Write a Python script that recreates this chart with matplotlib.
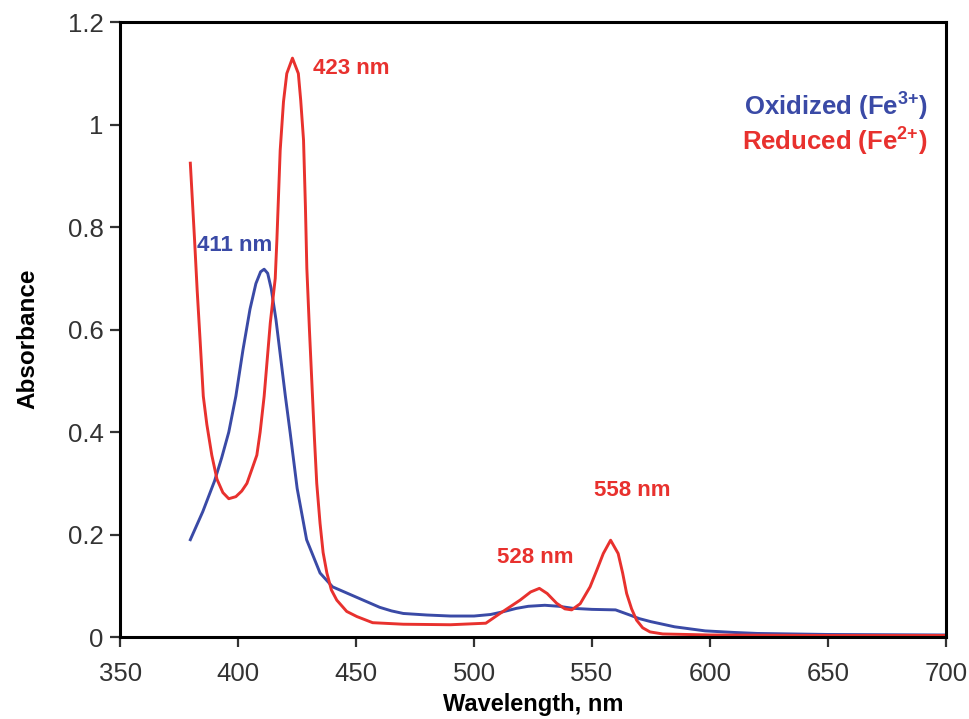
import matplotlib
matplotlib.use('Agg')
import matplotlib.pyplot as plt

plt.rcParams['font.family'] = ['Liberation Sans', 'DejaVu Sans']
plt.rcParams['mathtext.fontset'] = 'custom'
plt.rcParams['mathtext.rm'] = 'Liberation Sans:bold'
plt.rcParams['mathtext.default'] = 'rm'

# reduced (Fe2+) spectrum
red_wl = [379.7, 380.6, 381.5, 382.6, 383.9, 385.2, 386.7, 388.8, 391.0, 393.5,
          396.0, 399.0, 401.5, 403.7, 406.0, 407.9, 409.3, 411.0, 413.6, 415.7,
          416.4, 417.8, 419.2, 420.6, 423.0, 425.5, 426.5, 427.7, 428.5, 429.1,
          430.2, 431.2, 432.3, 433.3, 434.7, 436.0, 437.6, 439.5, 441.8, 446.0,
          450.3, 457.0, 470.0, 490.0, 505.0, 511.0, 519.5, 524.0, 527.7, 531.0,
          535.0, 538.5, 541.4, 545.0, 549.2, 552.0, 554.8, 557.9, 561.1, 563.0,
          564.7, 566.8, 568.9, 571.5, 574.6, 580.0, 600.0, 650.0, 700.0]
red_abs = [0.925, 0.85, 0.775, 0.677, 0.575, 0.470, 0.415, 0.355, 0.308, 0.282,
           0.270, 0.274, 0.285, 0.30, 0.33, 0.355, 0.40, 0.47, 0.613, 0.700,
           0.775, 0.95, 1.045, 1.10, 1.13, 1.10, 1.048, 0.97, 0.84, 0.72,
           0.60, 0.50, 0.39, 0.30, 0.222, 0.165, 0.125, 0.092, 0.072, 0.05,
           0.04, 0.028, 0.025, 0.024, 0.027, 0.046, 0.072, 0.088, 0.095, 0.085,
           0.066, 0.055, 0.053, 0.065, 0.098, 0.13, 0.163, 0.189, 0.163, 0.125,
           0.085, 0.055, 0.033, 0.018, 0.01, 0.006, 0.004, 0.003, 0.003]

# oxidized (Fe3+) spectrum
blue_wl = [379.7, 385.0, 390.0, 393.0, 396.0, 399.0, 402.0, 405.0, 407.5, 409.5,
           411.0, 412.5, 414.0, 416.0, 418.0, 420.0, 422.0, 425.0, 429.0, 434.7,
           440.0, 445.0, 450.0, 455.0, 460.0, 465.0, 470.0, 480.0, 490.0, 500.0,
           507.0, 512.0, 518.0, 523.0, 530.0, 536.0, 542.0, 550.0, 560.0, 566.0,
           570.0, 575.0, 585.0, 598.0, 610.0, 620.0, 650.0, 700.0]
blue_abs = [0.19, 0.245, 0.305, 0.35, 0.40, 0.47, 0.56, 0.64, 0.69, 0.713,
            0.718, 0.71, 0.68, 0.62, 0.545, 0.47, 0.40, 0.29, 0.19, 0.125,
            0.098, 0.088, 0.078, 0.068, 0.058, 0.051, 0.046, 0.043, 0.041, 0.041,
            0.044, 0.049, 0.056, 0.06, 0.062, 0.06, 0.056, 0.054, 0.053, 0.043,
            0.036, 0.03, 0.02, 0.012, 0.009, 0.007, 0.005, 0.004]

peak_labels = ['411 nm', '423 nm', '528 nm', '558 nm']
peak_pos = [(382.6, 0.765), (431.8, 1.11), (509.7, 0.156), (550.8, 0.287)]
blue = '#3a4aa6'
red = '#e8312e'
peak_colors = [blue, red, red, red]

fig = plt.figure(figsize=(9.7, 7.19), dpi=100)
ax = fig.add_axes([0.124, 0.114, 0.851, 0.855])

ax.plot(blue_wl, blue_abs, color=blue, lw=2.1, solid_joinstyle='round')
ax.plot(red_wl, red_abs, color=red, lw=2.1, solid_joinstyle='round')

for lab, (x, y), c in zip(peak_labels, peak_pos, peak_colors):
    ax.text(x, y, lab, color=c, fontsize=16, fontweight='bold', ha='left', va='center')

ax.text(0.978, 0.862, 'Oxidized (Fe$^{3{+}}$)', color=blue, fontsize=18.5,
        fontweight='bold', ha='right', va='center', transform=ax.transAxes)
ax.text(0.978, 0.805, 'Reduced (Fe$^{2{+}}$)', color=red, fontsize=18.5,
        fontweight='bold', ha='right', va='center', transform=ax.transAxes)

ax.set_xlim(350, 700)
ax.set_ylim(0, 1.2)
ax.set_xticks(range(350, 701, 50))
ax.set_yticks([0, 0.2, 0.4, 0.6, 0.8, 1.0, 1.2])
ax.set_yticklabels(['0', '0.2', '0.4', '0.6', '0.8', '1', '1.2'])
ax.tick_params(labelsize=18.5, colors='#333333', width=1.6, length=7, direction='out', pad=5)
ax.tick_params(axis='x', pad=11)
for s in ax.spines.values():
    s.set_linewidth(2.2)

ax.set_ylabel('Absorbance', fontsize=17.5, fontweight='bold')
ax.yaxis.set_label_coords(-0.098, 0.485)
ax.set_xlabel('Wavelength, nm', fontsize=17, fontweight='bold', labelpad=5)

plt.savefig('out.png', dpi=100)
